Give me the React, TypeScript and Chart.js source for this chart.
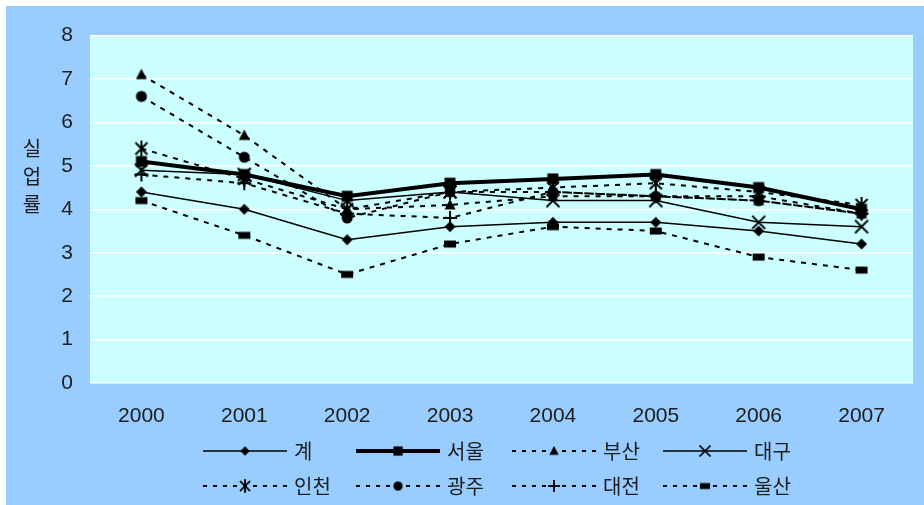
import React, { useEffect, useRef } from 'react';
import { Chart, registerables } from 'chart.js';

Chart.register(...registerables);

// ---- data ----
const years = ['2000', '2001', '2002', '2003', '2004', '2005', '2006', '2007'];
const seriesNames = ['계', '서울', '부산', '대구', '인천', '광주', '대전', '울산'];
const total = [4.4, 4.0, 3.3, 3.6, 3.7, 3.7, 3.5, 3.2];
const seoul = [5.1, 4.8, 4.3, 4.6, 4.7, 4.8, 4.5, 4.0];
const busan = [7.1, 5.7, 4.0, 4.1, 4.3, 4.3, 4.2, 3.9];
const daegu = [4.9, 4.8, 4.2, 4.4, 4.2, 4.2, 3.7, 3.6];
const incheon = [5.4, 4.7, 4.0, 4.4, 4.5, 4.6, 4.4, 4.1];
const gwangju = [6.6, 5.2, 3.8, 4.4, 4.4, 4.3, 4.2, 3.9];
const daejeon = [4.8, 4.6, 3.9, 3.8, 4.4, 4.3, 4.3, 3.9];
const ulsan = [4.2, 3.4, 2.5, 3.2, 3.6, 3.5, 2.9, 2.6];
const seriesValues = [total, seoul, busan, daegu, incheon, gwangju, daejeon, ulsan];
const yMin = 0;
const yMax = 8;
const yStep = 1;
const yTitle = ['실', '업', '률'];

// ---- styles ----
const FONT = '"Liberation Sans", Arial, "Noto Sans CJK KR", sans-serif';
const TEXT = '#1c1c1c';
const OUTER_BG = '#99CCFF';
const PLOT_BG = '#CCFFFF';

type MarkerKind = 'diamond' | 'square' | 'triangle' | 'x' | 'asterisk' | 'circle' | 'plus' | 'flat';
const markerKinds: MarkerKind[] = ['diamond', 'square', 'triangle', 'x', 'asterisk', 'circle', 'plus', 'flat'];
const lineWidths = [1.5, 4, 2, 1.5, 2, 2, 2, 2];
const dashes: number[][] = [[], [], [5, 6], [], [5, 6], [5, 6], [5, 6], [5, 6]];

function makeMarker(kind: MarkerKind): HTMLCanvasElement {
  const c = document.createElement('canvas');
  const S = 22;
  c.width = S;
  c.height = S;
  const ctx = c.getContext('2d')!;
  ctx.translate(S / 2, S / 2);
  ctx.fillStyle = '#000';
  ctx.strokeStyle = '#000';
  ctx.lineCap = 'butt';
  switch (kind) {
    case 'diamond':
      ctx.beginPath();
      ctx.moveTo(0, -5.5);
      ctx.lineTo(5.5, 0);
      ctx.lineTo(0, 5.5);
      ctx.lineTo(-5.5, 0);
      ctx.closePath();
      ctx.fill();
      break;
    case 'square':
      ctx.fillRect(-5.5, -5.5, 11, 11);
      break;
    case 'triangle':
      ctx.beginPath();
      ctx.moveTo(0, -6);
      ctx.lineTo(5.5, 4.5);
      ctx.lineTo(-5.5, 4.5);
      ctx.closePath();
      ctx.fill();
      break;
    case 'x':
      ctx.lineWidth = 1.8;
      ctx.beginPath();
      ctx.moveTo(-6.5, -6.5);
      ctx.lineTo(6.5, 6.5);
      ctx.moveTo(6.5, -6.5);
      ctx.lineTo(-6.5, 6.5);
      ctx.stroke();
      break;
    case 'asterisk':
      ctx.lineWidth = 2;
      ctx.beginPath();
      ctx.moveTo(-6, -6);
      ctx.lineTo(6, 6);
      ctx.moveTo(6, -6);
      ctx.lineTo(-6, 6);
      ctx.moveTo(0, -8);
      ctx.lineTo(0, 8);
      ctx.stroke();
      break;
    case 'circle':
      ctx.beginPath();
      ctx.arc(0, 0, 5.5, 0, Math.PI * 2);
      ctx.fill();
      break;
    case 'plus':
      ctx.lineWidth = 2;
      ctx.beginPath();
      ctx.moveTo(-7, 0);
      ctx.lineTo(7, 0);
      ctx.moveTo(0, -7);
      ctx.lineTo(0, 7);
      ctx.stroke();
      break;
    case 'flat':
      ctx.fillRect(-6, -3.5, 12, 7);
      break;
  }
  return c;
}

export default function App() {
  const ref = useRef<HTMLCanvasElement | null>(null);

  useEffect(() => {
    if (!ref.current) return;
    const markers = markerKinds.map((k) => makeMarker(k));

    const bgPlugin = {
      id: 'plotBg',
      beforeDraw(chart: any) {
        const { ctx, chartArea } = chart;
        ctx.save();
        ctx.fillStyle = PLOT_BG;
        ctx.fillRect(chartArea.left, chartArea.top, chartArea.right - chartArea.left, chartArea.bottom - chartArea.top);
        ctx.restore();
      },
    };

    const decoPlugin = {
      id: 'deco',
      afterDraw(chart: any) {
        const { ctx } = chart;
        ctx.save();
        // Y-axis title, stacked characters
        ctx.fillStyle = TEXT;
        ctx.font = `20px "Noto Sans CJK KR", sans-serif`;
        ctx.textAlign = 'center';
        ctx.textBaseline = 'middle';
        yTitle.forEach((ch, i) => ctx.fillText(ch, 26, 142 + i * 28));

        // Legend
        const colX = [197, 350, 506, 657];
        const rowY = [445, 480];
        const lineLen = 84;
        seriesNames.forEach((name, i) => {
          const x0 = colX[i % 4];
          const y0 = rowY[Math.floor(i / 4)];
          ctx.save();
          ctx.strokeStyle = '#000';
          ctx.lineWidth = lineWidths[i];
          ctx.setLineDash(dashes[i].length ? [4, 6] : []);
          ctx.beginPath();
          ctx.moveTo(x0, y0);
          ctx.lineTo(x0 + lineLen, y0);
          ctx.stroke();
          ctx.restore();
          const m = markers[i];
          const s = 0.85;
          ctx.drawImage(m, x0 + lineLen / 2 - (m.width * s) / 2, y0 - (m.height * s) / 2, m.width * s, m.height * s);
          ctx.fillStyle = TEXT;
          ctx.font = `20px "Noto Sans CJK KR", sans-serif`;
          ctx.textAlign = 'left';
          ctx.textBaseline = 'middle';
          ctx.fillText(name, x0 + 91, y0);
        });
        ctx.restore();
      },
    };

    const chart = new Chart(ref.current, {
      type: 'line',
      data: {
        labels: years,
        datasets: seriesNames.map((name, i) => ({
          label: name,
          data: seriesValues[i],
          borderColor: '#000',
          backgroundColor: '#000',
          borderWidth: lineWidths[i],
          borderDash: dashes[i],
          pointStyle: markers[i] as any,
          pointRadius: 5,
          pointHoverRadius: 5,
          tension: 0,
          fill: false,
        })),
      },
      options: {
        animation: false,
        responsive: true,
        maintainAspectRatio: false,
        layout: { padding: { left: 0, right: 11, top: 29, bottom: 0 } },
        plugins: {
          legend: { display: false },
          tooltip: { enabled: false },
          title: { display: false },
        },
        scales: {
          x: {
            type: 'category',
            offset: true,
            grid: { display: false },
            border: { display: false },
            ticks: {
              color: TEXT,
              font: { family: FONT, size: 21 },
              padding: 13,
              maxRotation: 0,
              autoSkip: false,
            },
            afterFit(scale: any) {
              scale.height = 122;
            },
          },
          y: {
            min: yMin,
            max: yMax,
            grid: { color: '#FFFFFF', lineWidth: 1.5, drawTicks: false },
            border: { display: false },
            ticks: {
              stepSize: yStep,
              color: TEXT,
              font: { family: FONT, size: 21 },
              padding: 17,
            },
            afterFit(scale: any) {
              scale.width = 84;
            },
          },
        },
      },
      plugins: [bgPlugin, decoPlugin],
    });
    return () => chart.destroy();
  }, []);

  return (
    <div
      style={{
        position: 'absolute',
        left: 6,
        top: 6,
        width: 918,
        height: 499,
        background: OUTER_BG,
      }}
    >
      <canvas ref={ref} />
    </div>
  );
}
